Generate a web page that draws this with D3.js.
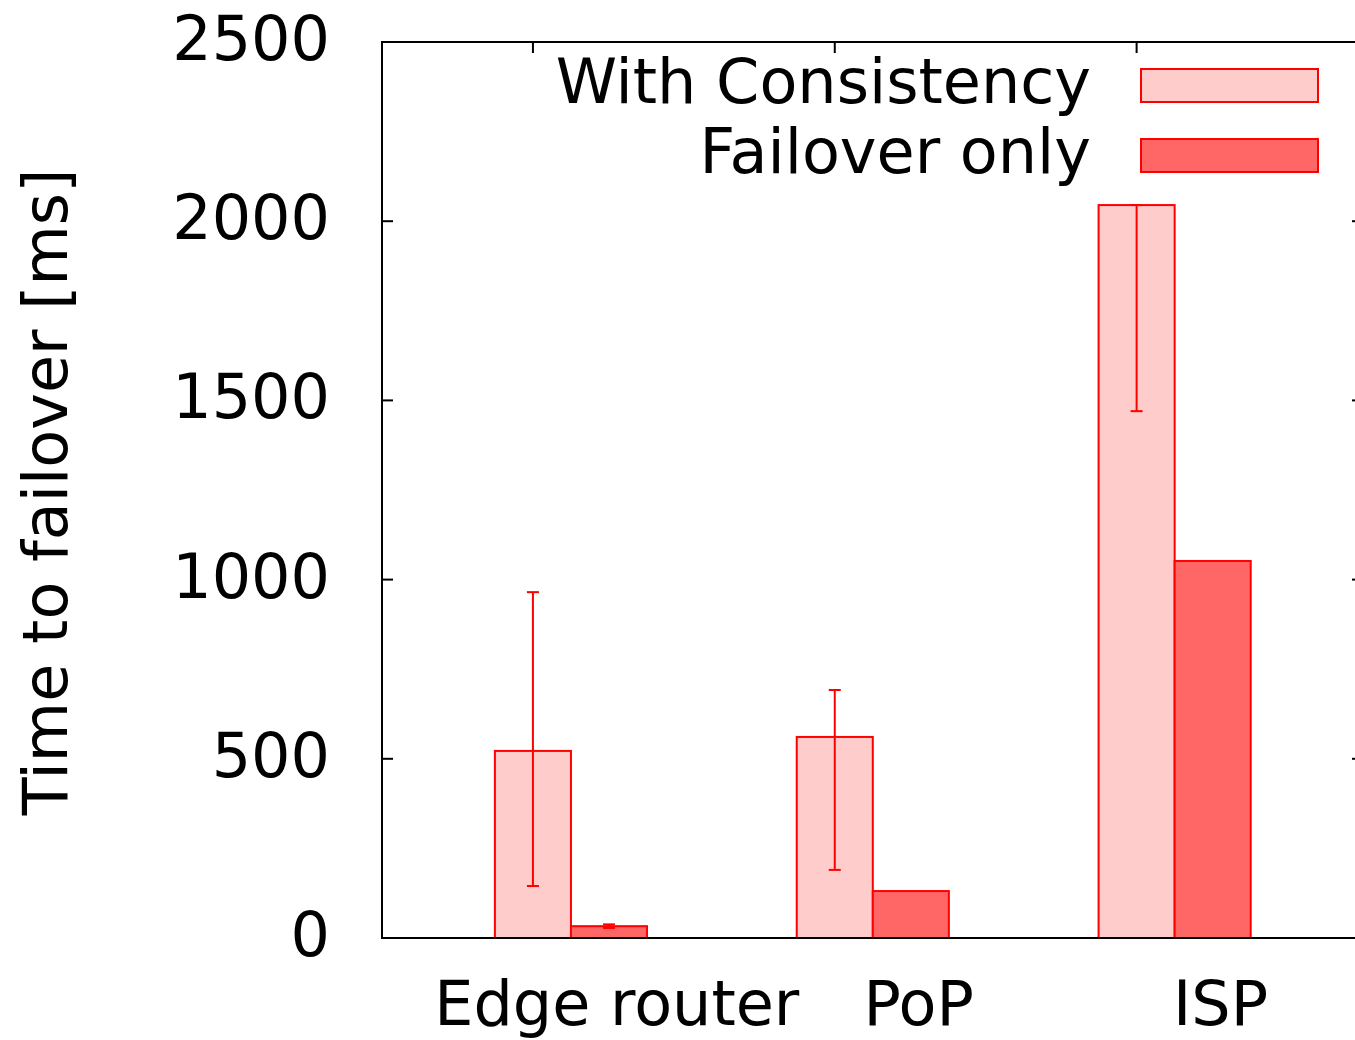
<!DOCTYPE html>
<html>
<head>
<meta charset="utf-8">
<script src="https://cdnjs.cloudflare.com/ajax/libs/d3/7.8.5/d3.min.js"></script>
<style>
  body { margin: 0; background: #fff; }
  svg { display: block; font-family: "DejaVu Sans", sans-serif; }
</style>
</head>
<body>
<div class="chart-container"></div>
<script>
const categories = ["Edge router", "PoP", "ISP"];
const seriesNames = ["With Consistency", "Failover only"];
const consistency = [522, 561, 2045];
const consistencyLow = [145, 190, 1470];
const consistencyHigh = [965, 692, 2045];
const failover = [33, 131, 1052];
const failoverLow = [28, null, null];
const failoverHigh = [38, null, null];
const yTicks = [0, 500, 1000, 1500, 2000, 2500];

const w = 1355;
const h = 1040;
const plotLeft = 382, plotRight = 1363, plotTop = 42, plotBottom = 938;
const fills = ["#ffcccc", "#ff6666"];
const stroke = "#ff0000";
const fontSize = 62;

const svg = d3.select(".chart-container")
    .append("svg")
    .attr("width", w)
    .attr("height", h);

const xScale = d3.scaleLinear()
    .domain([-0.5, 2.75])
    .range([plotLeft, plotRight]);

const yScale = d3.scaleLinear()
    .domain([0, 2500])
    .range([plotBottom, plotTop]);

const barW = 0.252;

// ticks on the bottom go under the bars
svg.selectAll(".xtick-bottom")
    .data(categories)
    .enter()
    .append("line")
    .attr("x1", (d, i) => xScale(i))
    .attr("x2", (d, i) => xScale(i))
    .attr("y1", plotBottom)
    .attr("y2", plotBottom - 11)
    .attr("stroke", "#000")
    .attr("stroke-width", 2);

const series = [
    { vals: consistency, low: consistencyLow, high: consistencyHigh, off: 0 },
    { vals: failover, low: failoverLow, high: failoverHigh, off: barW }
];

series.forEach((s, si) => {
    svg.selectAll(".bar" + si)
        .data(s.vals)
        .enter()
        .append("rect")
        .attr("x", (d, i) => xScale(i + s.off - barW / 2))
        .attr("y", (d) => yScale(d))
        .attr("width", xScale(barW) - xScale(0))
        .attr("height", (d) => yScale(0) - yScale(d))
        .attr("fill", fills[si])
        .attr("stroke", stroke)
        .attr("stroke-width", 2);
});

series.forEach((s, si) => {
    const g = svg.append("g");
    s.vals.forEach((d, i) => {
        if (s.low[i] === null) return;
        const cx = xScale(i + s.off);
        g.append("line")
            .attr("x1", cx).attr("x2", cx)
            .attr("y1", yScale(s.low[i])).attr("y2", yScale(s.high[i]))
            .attr("stroke", stroke).attr("stroke-width", si === 1 ? 5 : 2);
        [s.low[i], s.high[i]].forEach((v) => {
            g.append("line")
                .attr("x1", cx - 6).attr("x2", cx + 6)
                .attr("y1", yScale(v)).attr("y2", yScale(v))
                .attr("stroke", stroke).attr("stroke-width", 2);
        });
    });
});

// border
svg.append("rect")
    .attr("x", plotLeft)
    .attr("y", plotTop)
    .attr("width", plotRight - plotLeft)
    .attr("height", plotBottom - plotTop)
    .attr("fill", "none")
    .attr("stroke", "#000")
    .attr("stroke-width", 2);

// y ticks (left and mirrored right)
svg.selectAll(".ytick")
    .data(yTicks)
    .enter()
    .append("g")
    .each(function(d) {
        const y = yScale(d);
        d3.select(this).append("line")
            .attr("x1", plotLeft).attr("x2", plotLeft + 11)
            .attr("y1", y).attr("y2", y)
            .attr("stroke", "#000").attr("stroke-width", 2);
        d3.select(this).append("line")
            .attr("x1", plotRight - 11).attr("x2", plotRight)
            .attr("y1", y).attr("y2", y)
            .attr("stroke", "#000").attr("stroke-width", 2);
        d3.select(this).append("text")
            .attr("x", 330)
            .attr("y", y)
            .attr("dy", 18)
            .attr("text-anchor", "end")
            .style("font-size", fontSize + "px")
            .text(d);
    });

// top ticks
svg.selectAll(".xtick-top")
    .data(categories)
    .enter()
    .append("line")
    .attr("x1", (d, i) => xScale(i))
    .attr("x2", (d, i) => xScale(i))
    .attr("y1", plotTop)
    .attr("y2", plotTop + 11)
    .attr("stroke", "#000")
    .attr("stroke-width", 2);

// category labels
svg.selectAll(".xlabel")
    .data(categories)
    .enter()
    .append("text")
    .attr("x", (d, i) => xScale(i + 0.278))
    .attr("y", 1025)
    .attr("text-anchor", "middle")
    .style("font-size", fontSize + "px")
    .text((d) => d);

// y axis title
svg.append("text")
    .attr("transform", "translate(67,492) rotate(-90)")
    .attr("text-anchor", "middle")
    .style("font-size", fontSize + "px")
    .text("Time to failover [ms]");

// legend
const legend = svg.append("g");
seriesNames.forEach((name, i) => {
    const y = 69 + i * 70;
    legend.append("rect")
        .attr("x", 1141)
        .attr("y", y)
        .attr("width", 177)
        .attr("height", 33)
        .attr("fill", fills[i])
        .attr("stroke", stroke)
        .attr("stroke-width", 2);
    legend.append("text")
        .attr("x", 1091)
        .attr("y", y + 34)
        .attr("text-anchor", "end")
        .style("font-size", fontSize + "px")
        .text(name);
});
</script>
</body>
</html>
